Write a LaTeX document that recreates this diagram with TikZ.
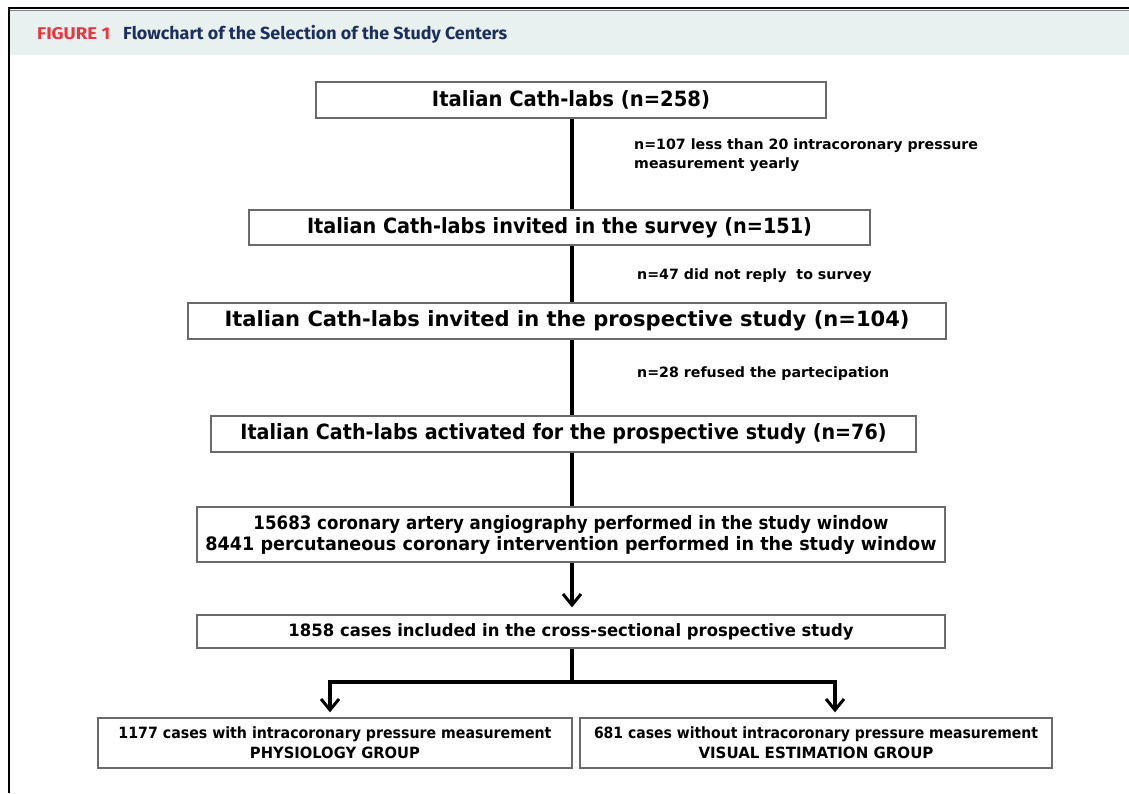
\documentclass[tikz,border=0pt]{standalone}
\usepackage{fontspec}
\usepackage{graphicx}
\setmainfont{DejaVu Sans}
\newfontfamily\hdrfont{Fira Sans}
\usetikzlibrary{arrows.meta}
\definecolor{hdrbg}{HTML}{E8F1F0}
\definecolor{figred}{HTML}{E2383F}
\definecolor{navy}{HTML}{1B2F5E}
\definecolor{boxline}{HTML}{6A6A6A}
\newcommand{\fitw}[2]{\resizebox{#1pt}{\height}{#2}}
\begin{document}
\begin{tikzpicture}[x=1pt,y=-1pt,
  box/.style={draw=boxline,line width=1.3pt,fill=white,inner sep=0pt,align=center,font=\bfseries},
  conn/.style={line width=4pt},
  arr/.style={line width=4pt,-{Straight Barb[length=11pt,width=18pt,line width=3pt]}},
  side/.style={font=\bfseries\fontsize{14.2}{19}\selectfont,align=left,inner sep=0pt,anchor=north west},
  big/.style={font=\bfseries\fontsize{21}{24}\selectfont},
  mid/.style={font=\bfseries\fontsize{18.5}{21}\selectfont},
  sml/.style={font=\bfseries\fontsize{15.5}{20}\selectfont}]
\useasboundingbox (0,0) rectangle (1129,793);
\fill[white] (0,0) rectangle (1129,793);
% header
\fill[hdrbg] (9,10) rectangle (1129,55);
\draw[line width=2pt] (9,8) -- (1129,8);
\draw[gray,line width=0.6pt] (9,10.3) -- (1129,10.3);
\draw[line width=2pt] (9,7) -- (9,793);
\node[anchor=west,inner sep=0pt,text=figred,font=\hdrfont\bfseries\fontsize{17}{18}\selectfont] (fig) at (37,34) {\fitw{73}{FIGURE 1}};
\node[anchor=west,inner sep=0pt,text=navy,font=\hdrfont\bfseries\fontsize{17.5}{18}\selectfont] (ttl) at (123,34) {\fitw{384}{Flowchart of the Selection of the Study Centers}};
% boxes
\node[box,big,minimum width=510pt,minimum height=36pt] (b1) at (571,100) {\fitw{278}{Italian Cath-labs (n=258)}};
\node[box,big,minimum width=621pt,minimum height=35pt] (b2) at (559.5,227.5) {\fitw{505}{Italian Cath-labs invited in the survey (n=151)}};
\node[box,big,minimum width=758pt,minimum height=36pt] (b3) at (567,321) {\fitw{685}{Italian Cath-labs invited in the prospective study (n=104)}};
\node[box,big,minimum width=705pt,minimum height=36pt] (b4) at (563.5,434) {\fitw{646}{Italian Cath-labs activated for the prospective study (n=76)}};
\node[box,mid,minimum width=748pt,minimum height=55pt] (b5) at (571,534.5) {\fitw{635}{15683 coronary artery angiography performed in the study window}\\\fitw{731}{8441 percutaneous coronary intervention performed in the study window}};
\node[box,font=\bfseries\fontsize{17}{19}\selectfont,minimum width=748pt,minimum height=33pt] (b6) at (571,631.5) {\fitw{565}{1858 cases included in the cross-sectional prospective study}};
\node[box,sml,minimum width=474pt,minimum height=50pt] (b7) at (335,743) {\fitw{433}{1177 cases with intracoronary pressure measurement}\\\fitw{170}{PHYSIOLOGY GROUP}};
\node[box,sml,minimum width=472pt,minimum height=50pt] (b8) at (816,743) {\fitw{444}{681 cases without intracoronary pressure measurement}\\\fitw{235}{VISUAL ESTIMATION GROUP}};
% side labels
\node[side] (s1) at (634,139) {n=107 less than 20 intracoronary pressure\\measurement yearly};
\node[side,anchor=west] (s2) at (637,276) {n=47 did not reply\ \ to survey};
\node[side,anchor=west] (s3) at (637,374) {n=28 refused the partecipation};
% connectors
\coordinate (trunk) at (572,0);
\coordinate (split) at (572,682);
\coordinate (lft) at (330,682);
\coordinate (rgt) at (835,682);
\draw[conn] (b1.south -| trunk) -- (b2.north -| trunk);
\draw[conn] (b2.south -| trunk) -- (b3.north -| trunk);
\draw[conn] (b3.south -| trunk) -- (b4.north -| trunk);
\draw[conn] (b4.south -| trunk) -- (b5.north -| trunk);
\draw[arr,shorten >=7pt] (b5.south -| trunk) -- (b6.north -| trunk);
\draw[conn] (b6.south -| trunk) -- (split);
\draw[conn,line cap=rect] (lft) -- (rgt);
\draw[arr,shorten >=5pt] (lft) -- (lft |- b7.north);
\draw[arr,shorten >=5pt] (rgt) -- (rgt |- b8.north);
\end{tikzpicture}
\end{document}
